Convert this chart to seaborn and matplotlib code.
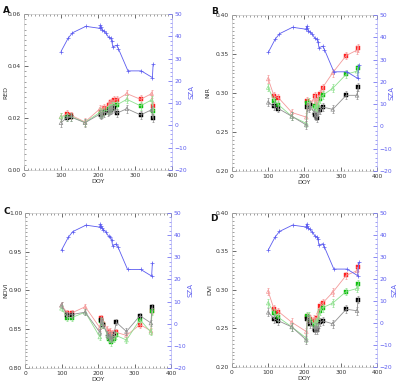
import matplotlib
matplotlib.use("Agg")
import matplotlib.pyplot as plt
from matplotlib.ticker import MultipleLocator, FormatStrFormatter
import seaborn as sns
import numpy as np

sns.set_theme(style="white")
plt.rcParams['font.family'] = ['DejaVu Sans']

# ---------------- data ----------------
doy = [100, 116, 128, 165, 205, 208, 212, 215, 226, 229, 232, 235, 238, 244, 250, 278, 315, 345, 348]
filled = [0, 1, 1, 0, 0, 1, 0, 1, 0, 1, 0, 1, 0, 1, 1, 0, 1, 0, 1]

sza_doy = [100, 119, 131, 167, 205, 206, 208, 211, 215, 222, 229, 234, 237, 240, 250, 255, 281, 317, 347, 349]
sza = [33.2, 39.1, 41.6, 44.5, 43.6, 45.0, 44.0, 43.0, 42.5, 41.3, 39.5, 39.2, 38.0, 35.3, 36.0, 34.5, 24.5, 24.5, 21.5, 27.5]

red_red = [0.0205, 0.0215, 0.0210, 0.0185, 0.0235, 0.0225, 0.0230, 0.0240, 0.0245, 0.0250, 0.0255, 0.0260, 0.0255, 0.0270, 0.0270, 0.0294, 0.0272, 0.0294, 0.0247]
red_green = [0.0204, 0.0205, 0.0205, 0.0183, 0.0222, 0.0215, 0.0220, 0.0225, 0.0230, 0.0235, 0.0240, 0.0240, 0.0245, 0.0248, 0.0250, 0.0272, 0.0247, 0.0270, 0.0228]
red_black = [0.0182, 0.0202, 0.0203, 0.0182, 0.0215, 0.0210, 0.0215, 0.0220, 0.0222, 0.0228, 0.0230, 0.0232, 0.0235, 0.0240, 0.0218, 0.0236, 0.0212, 0.0232, 0.0199]

nir_red = [0.318, 0.296, 0.294, 0.275, 0.269, 0.290, 0.284, 0.286, 0.292, 0.296, 0.288, 0.283, 0.293, 0.299, 0.307, 0.326, 0.348, 0.355, 0.358]
nir_green = [0.307, 0.290, 0.285, 0.270, 0.261, 0.287, 0.288, 0.284, 0.280, 0.283, 0.280, 0.282, 0.285, 0.292, 0.297, 0.306, 0.324, 0.328, 0.332]
nir_black = [0.288, 0.283, 0.280, 0.270, 0.259, 0.282, 0.280, 0.285, 0.275, 0.272, 0.270, 0.268, 0.275, 0.278, 0.282, 0.279, 0.297, 0.297, 0.308]

ndvi_red = [0.881, 0.871, 0.871, 0.879, 0.852, 0.865, 0.860, 0.857, 0.850, 0.846, 0.848, 0.842, 0.845, 0.843, 0.846, 0.842, 0.856, 0.848, 0.874]
ndvi_green = [0.877, 0.865, 0.865, 0.872, 0.840, 0.860, 0.856, 0.855, 0.842, 0.838, 0.840, 0.833, 0.837, 0.8375, 0.842, 0.836, 0.8625, 0.846, 0.873]
ndvi_black = [0.881, 0.868, 0.869, 0.872, 0.846, 0.862, 0.858, 0.855, 0.844, 0.840, 0.842, 0.8375, 0.840, 0.844, 0.859, 0.847, 0.8675, 0.858, 0.879]

dvi_red = [0.298, 0.275, 0.272, 0.258, 0.246, 0.265, 0.264, 0.262, 0.2625, 0.260, 0.258, 0.263, 0.271, 0.279, 0.283, 0.297, 0.319, 0.325, 0.330]
dvi_green = [0.283, 0.270, 0.2645, 0.252, 0.2375, 0.266, 0.2667, 0.260, 0.256, 0.255, 0.257, 0.258, 0.265, 0.273, 0.277, 0.283, 0.298, 0.302, 0.308]
dvi_black = [0.271, 0.2625, 0.260, 0.252, 0.235, 0.262, 0.2625, 0.256, 0.250, 0.248, 0.252, 0.248, 0.252, 0.258, 0.260, 0.256, 0.275, 0.273, 0.2875]

panel_letters = ["A", "B", "C", "D"]
ylabels = ["RED", "NIR", "NDVI", "DVI"]
ylims = [(0.0, 0.06), (0.20, 0.40), (0.80, 1.00), (0.20, 0.40)]
ymajor = [0.02, 0.05, 0.05, 0.05]
yminor = [0.002, 0.005, 0.005, 0.005]
yfmt = ["%.2f", "%.2f", "%.2f", "%.2f"]
errs = [0.0015, 0.005, 0.004, 0.005]
series = [
    (red_red, red_green, red_black),
    (nir_red, nir_green, nir_black),
    (ndvi_red, ndvi_green, ndvi_black),
    (dvi_red, dvi_green, dvi_black),
]

# ---------------- styles ----------------
BLUE = "#5b5bf0"
cols = [("#ff2020", "#f49a9a"), ("#10c010", "#8ee08e"), ("#000000", "#909090")]
positions = [
    [0.060, 0.5584, 0.370, 0.405],
    [0.580, 0.5560, 0.3625, 0.405],
    [0.0625, 0.0442, 0.365, 0.4026],
    [0.580, 0.0468, 0.3625, 0.400],
]
letter_pos = [(0.008, 0.985), (0.528, 0.982), (0.008, 0.462), (0.525, 0.445)]
ylab_x = [-0.108, -0.15, -0.116, -0.138]
sza_lab_x = [1.11, 1.08, 1.11, 1.10]

fig = plt.figure(figsize=(4.0, 3.85), dpi=100)
fig.patch.set_facecolor("white")

doy_arr = np.array(doy)
filled_arr = np.array(filled, dtype=bool)

for i in range(4):
    ax = fig.add_axes(positions[i])
    ax.set_facecolor("white")
    ax2 = ax.twinx()

    # SZA curve
    sns.lineplot(x=sza_doy, y=sza, ax=ax2, color=BLUE, lw=0.6, sort=False,
                 marker="+", markersize=2.5, markeredgewidth=0.5,
                 markeredgecolor=BLUE, estimator=None)

    for (vals, (dark, light)) in zip(series[i], cols):
        v = np.array(vals)
        sns.lineplot(x=doy, y=vals, ax=ax, color=light, lw=0.6, sort=False, estimator=None)
        ax.errorbar(doy, vals, yerr=errs[i], fmt="none", ecolor=light, elinewidth=0.5,
                    capsize=1.0, capthick=0.5)
        sns.scatterplot(x=doy_arr[~filled_arr], y=v[~filled_arr], ax=ax, marker="^",
                        s=7, facecolor="none", edgecolor=light, linewidth=0.5)
        sns.scatterplot(x=doy_arr[filled_arr], y=v[filled_arr], ax=ax, marker="s",
                        s=6, color=dark, edgecolor=dark, linewidth=0.3)

    ax.set_xlim(0, 400)
    ax.set_ylim(*ylims[i])
    ax2.set_ylim(-20, 50)
    ax.xaxis.set_major_locator(MultipleLocator(100))
    ax.xaxis.set_minor_locator(MultipleLocator(10))
    ax.yaxis.set_major_locator(MultipleLocator(ymajor[i]))
    ax.yaxis.set_minor_locator(MultipleLocator(yminor[i]))
    ax.yaxis.set_major_formatter(FormatStrFormatter(yfmt[i]))
    ax2.yaxis.set_major_locator(MultipleLocator(10))
    ax2.yaxis.set_minor_locator(MultipleLocator(2))

    ax.tick_params(axis="both", which="major", direction="in", length=3, width=0.5,
                   labelsize=4.3, pad=2, colors="#333333", top=True, bottom=True, left=True)
    ax.tick_params(axis="both", which="minor", direction="in", length=1.5, width=0.4,
                   top=True, bottom=True, left=True, colors="#555555")
    ax.tick_params(axis="y", which="both", right=False)
    ax2.tick_params(axis="y", which="major", direction="in", length=3, width=0.5,
                    labelsize=4.3, pad=2, colors=BLUE)
    ax2.tick_params(axis="y", which="minor", direction="in", length=1.5, width=0.4, colors=BLUE)

    for sp in ["left", "bottom", "top"]:
        ax.spines[sp].set_color("#bbbbbb")
        ax.spines[sp].set_linewidth(0.4)
        ax2.spines[sp].set_visible(False)
    ax.spines["right"].set_visible(False)
    ax2.spines["right"].set_color("#a0a0f5")
    ax2.spines["right"].set_linewidth(0.4)

    ax.set_xlabel("DOY", fontsize=4.5, labelpad=1, color="#333333")
    ax.set_ylabel(ylabels[i], fontsize=4.5, color="#333333")
    ax.yaxis.set_label_coords(ylab_x[i], 0.5)
    ax2.set_ylabel("SZA", fontsize=5, color=BLUE, rotation=90)
    ax2.yaxis.set_label_coords(sza_lab_x[i], 0.5)
    ax2.set_xlabel("")
    ax.grid(False)
    ax2.grid(False)

    fig.text(letter_pos[i][0], letter_pos[i][1], panel_letters[i], fontsize=6.5,
             fontweight="bold", ha="left", va="top", color="#111111")

fig.savefig("out.png", dpi=100, facecolor="white")
